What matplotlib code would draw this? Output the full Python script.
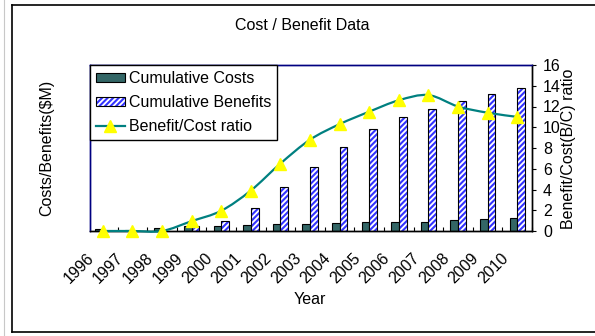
import numpy as np
import matplotlib
matplotlib.use('Agg')
import matplotlib.pyplot as plt
from matplotlib.path import Path
from matplotlib.patches import PathPatch, Rectangle
from matplotlib.lines import Line2D
from matplotlib.legend_handler import HandlerTuple
import matplotlib.transforms as mtransforms

plt.rcParams['font.family'] = ['Liberation Sans', 'DejaVu Sans']
plt.rcParams['hatch.color'] = '#3333ff'
plt.rcParams['hatch.linewidth'] = 1.5

# 累计成本 / 累计收益 ($M) 与收益成本比
years = ['1996', '1997', '1998', '1999', '2000', '2001', '2002', '2003',
         '2004', '2005', '2006', '2007', '2008', '2009', '2010']
cum_costs = [0.16, 0.12, 0.25, 0.45, 0.45, 0.55, 0.65, 0.68,
             0.77, 0.87, 0.87, 0.87, 1.06, 1.16, 1.25]
cum_benefits = [0.0, 0.0, 0.0, 0.45, 0.95, 2.2, 4.2, 6.2,
                8.1, 9.85, 11.0, 11.8, 12.55, 13.25, 13.8]
bc_ratio = [0.0, 0.0, 0.0, 0.95, 1.95, 3.9, 6.5, 8.8,
            10.3, 11.5, 12.6, 13.1, 12.0, 11.4, 11.0]

W, H = 595, 336
fig = plt.figure(figsize=(W / 100, H / 100), dpi=100, facecolor='white')

# 外框线
fig.add_artist(Line2D([3.5 / W, 3.5 / W], [0, 1], color='#c8c8c8', lw=0.8))
fig.add_artist(Line2D([11.5 / W, 11.5 / W], [1 - 5 / H, 1 - 331.5 / H], color='black', lw=1.2))
fig.add_artist(Line2D([11.5 / W, 1], [1 - 5 / H, 1 - 5 / H], color='black', lw=1.2))
fig.add_artist(Line2D([11.5 / W, 1], [1 - 331.5 / H, 1 - 331.5 / H], color='black', lw=1.2))

left, right, top, bottom = 89.5, 532, 65, 231
ax = fig.add_axes([left / W, 1 - bottom / H, (right - left) / W, (bottom - top) / H])
ax2 = ax.twinx()

x = np.arange(len(years))
bw = 0.26
teal = '#008080'

ax.bar(x - bw / 2, cum_costs, bw, color='#336666', edgecolor='black', linewidth=0.8, zorder=2)
ax.bar(x + bw / 2, cum_benefits, bw, color='white', hatch='//////', linewidth=0, zorder=2)
ax.bar(x + bw / 2, cum_benefits, bw, fill=False, edgecolor='black', linewidth=0.8, zorder=3)

ax.set_xlim(-0.45, len(years) - 0.5)
ax.set_ylim(0, 16)
ax2.set_ylim(0, 16)

# 平滑曲线 (Catmull-Rom 转三次贝塞尔)
pts = np.column_stack([x, bc_ratio]).astype(float)
verts = [tuple(pts[0])]
codes = [Path.MOVETO]
n = len(pts)
for i in range(n - 1):
    p0 = pts[max(i - 1, 0)]
    p1 = pts[i]
    p2 = pts[i + 1]
    p3 = pts[min(i + 2, n - 1)]
    c1 = p1 + (p2 - p0) / 6.0
    c2 = p2 - (p3 - p1) / 6.0
    verts += [tuple(c1), tuple(c2), tuple(p2)]
    codes += [Path.CURVE4] * 3
curve = PathPatch(Path(verts, codes), fill=False, edgecolor=teal, lw=1.6,
                  transform=ax2.transData, clip_on=False, zorder=4)
ax2.add_patch(curve)
ax2.plot(x, bc_ratio, linestyle='none', marker='^', markersize=9,
         markerfacecolor='#ffff00', markeredgecolor='#ffff00', clip_on=False, zorder=5)

# 坐标轴样式
ax.spines['left'].set_color('#000080')
ax.spines['top'].set_color('#000080')
ax2.spines['left'].set_color('#000080')
ax2.spines['top'].set_color('#000080')
ax2.spines['right'].set_color('black')
ax.spines['bottom'].set_color('black')
for s in ax.spines.values():
    s.set_linewidth(1.0)
for s in ax2.spines.values():
    s.set_linewidth(1.0)

ax.set_yticks([])
ax.set_xticks(x)
ax.set_xticks(np.arange(0.5, len(years), 1.0), minor=True)
ax.tick_params(axis='x', which='major', length=0, pad=14, labelsize=11.5)
ax.tick_params(axis='x', which='minor', direction='in', length=3, width=0.8)
ax.set_xticklabels(years, rotation=45, ha='right', va='top')
offset = mtransforms.ScaledTranslation(-6 / 100, 0, fig.dpi_scale_trans)
for lbl in ax.get_xticklabels():
    lbl.set_transform(lbl.get_transform() + offset)

ax2.set_yticks(np.arange(0, 17, 2))
ax2.tick_params(axis='y', direction='out', length=3, width=0.8, pad=5, labelsize=11.5)

fig.text(302 / W, 1 - 25 / H, 'Cost / Benefit Data', ha='center', va='center', fontsize=11.5)
fig.text(310 / W, 1 - 300 / H, 'Year', ha='center', va='center', fontsize=11.5)
fig.text(47 / W, 1 - 148 / H, 'Costs/Benefits($M)', ha='center', va='center',
         rotation=90, fontsize=11.5)
fig.text(569 / W, 1 - 149 / H, 'Benefit/Cost(B/C) ratio', ha='center', va='center',
         rotation=90, fontsize=11.5)

# 图例
h_cost = Rectangle((0, 0), 1, 1, facecolor='#336666', edgecolor='black', linewidth=0.8)
h_ben_fill = Rectangle((0, 0), 1, 1, facecolor='white', hatch='//////', linewidth=0)
h_ben_edge = Rectangle((0, 0), 1, 1, fill=False, edgecolor='black', linewidth=0.8)
h_ratio = Line2D([], [], color=teal, lw=1.6, marker='^', markersize=9,
                 markerfacecolor='#ffff00', markeredgecolor='#ffff00')
leg = ax2.legend([h_cost, (h_ben_fill, h_ben_edge), h_ratio],
                 ['Cumulative Costs', 'Cumulative Benefits', 'Benefit/Cost ratio'],
                 handler_map={tuple: HandlerTuple(ndivide=1)},
                 loc='upper left', bbox_to_anchor=(left / W, 1 - top / H),
                 bbox_transform=fig.transFigure, borderaxespad=0,
                 fancybox=False, shadow=False, framealpha=1, edgecolor='black',
                 fontsize=11.5, handlelength=1.8, handleheight=0.5, handletextpad=0.25,
                 borderpad=0.4, labelspacing=0.55)
leg.get_frame().set_linewidth(1.0)
leg.set_zorder(10)

fig.savefig('out.png', dpi=100, facecolor='white')
